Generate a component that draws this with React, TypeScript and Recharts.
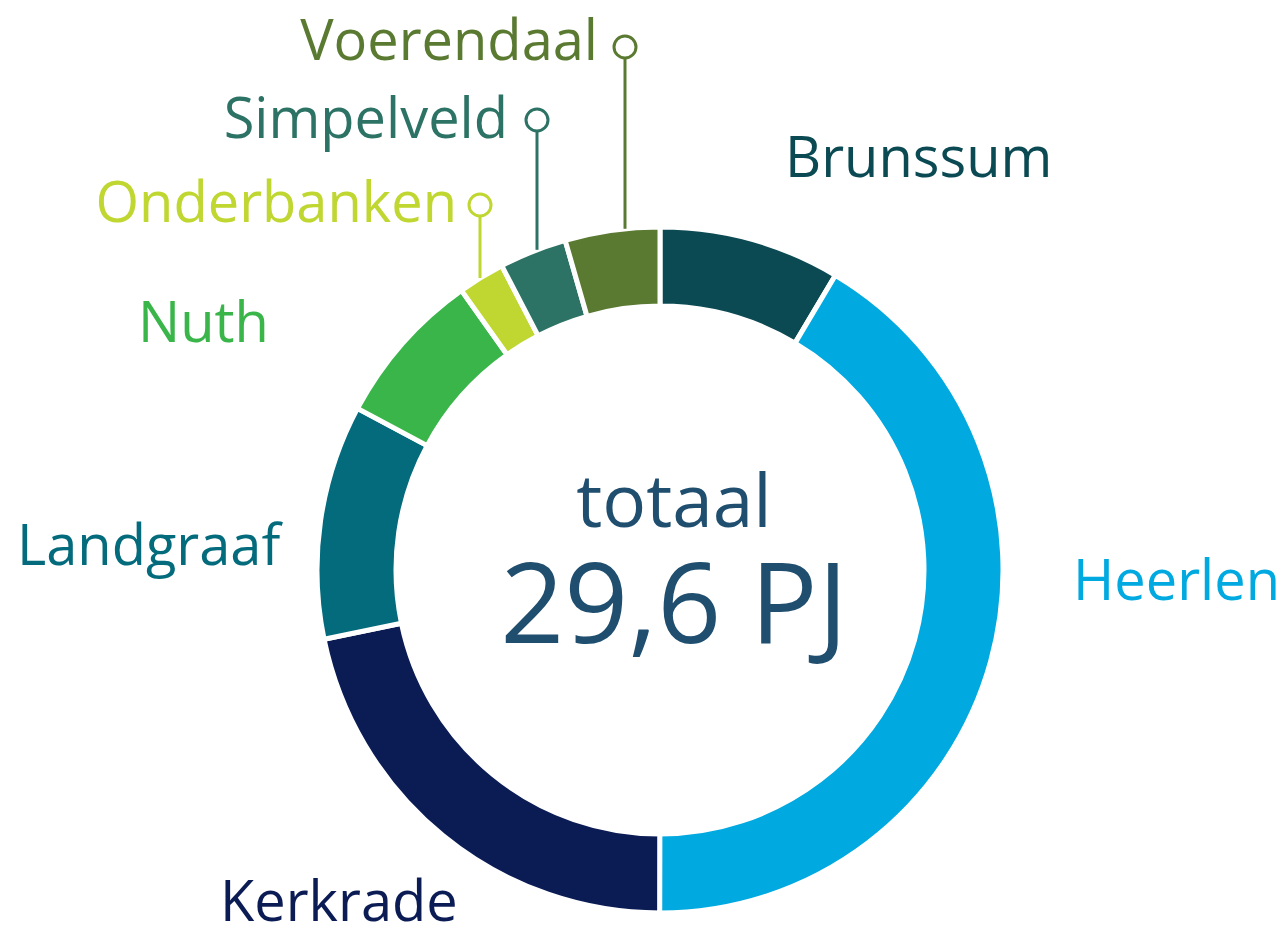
import { Label, Pie, PieChart, Cell } from "recharts";

// energy use per municipality, PJ
const municipalities = [
  "Brunssum",
  "Heerlen",
  "Kerkrade",
  "Landgraaf",
  "Nuth",
  "Onderbanken",
  "Simpelveld",
  "Voerendaal",
];
const energyPJ = [2.53, 12.28, 6.44, 3.27, 2.18, 0.65, 0.94, 1.32];
const totalLabel = "29,6 PJ";

const colors = [
  "#0b4a53",
  "#00a9e0",
  "#0b1c55",
  "#036b7b",
  "#39b54a",
  "#c0d631",
  "#2d7365",
  "#5a7a32",
];

const data = municipalities.map((name, i) => ({ name, value: energyPJ[i] }));

const CX = 660;
const CY = 570;
const OUTER = 343;
const INNER = 264;
const FONT = "'Open Sans', sans-serif";
const LABEL_SIZE = 56;

// where each name sits; callouts get a small ring + vertical line down to the donut
const labelPos: Record<
  string,
  { x: number; y: number; anchor: "start" | "end"; pin?: { x: number; y: number } }
> = {
  Brunssum: { x: 785, y: 177, anchor: "start" },
  Heerlen: { x: 1073, y: 600, anchor: "start" },
  Kerkrade: { x: 220, y: 921, anchor: "start" },
  Landgraaf: { x: 17, y: 565, anchor: "start" },
  Nuth: { x: 138, y: 342, anchor: "start" },
  Onderbanken: { x: 457, y: 222, anchor: "end", pin: { x: 480, y: 205 } },
  Simpelveld: { x: 508, y: 138, anchor: "end", pin: { x: 537, y: 120 } },
  Voerendaal: { x: 598, y: 60, anchor: "end", pin: { x: 625, y: 47 } },
};

function renderLabel(props: any) {
  const { name, index, cx, cy, outerRadius } = props;
  const pos = labelPos[name];
  if (!pos) return null;
  const color = colors[index % colors.length];
  let pin = null;
  if (pos.pin) {
    const dx = pos.pin.x - cx;
    const ringY = cy - Math.sqrt(outerRadius * outerRadius - dx * dx);
    pin = (
      <g>
        <line
          x1={pos.pin.x}
          y1={pos.pin.y + 11}
          x2={pos.pin.x}
          y2={ringY}
          stroke={color}
          strokeWidth={3}
        />
        <circle
          cx={pos.pin.x}
          cy={pos.pin.y}
          r={11}
          fill="#fff"
          stroke={color}
          strokeWidth={3}
        />
      </g>
    );
  }
  return (
    <g key={name}>
      {pin}
      <text
        x={pos.x}
        y={pos.y}
        textAnchor={pos.anchor}
        fill={color}
        fontFamily={FONT}
        fontSize={LABEL_SIZE}
      >
        {name}
      </text>
    </g>
  );
}

function CenterText(props: any) {
  const vb = props.viewBox || {};
  const x = (vb.cx ?? CX) + 14;
  const y = vb.cy ?? CY;
  return (
    <g>
      <text
        x={x}
        y={y - 43}
        textAnchor="middle"
        fill="#1f4e6f"
        fontFamily={FONT}
        fontSize={73}
      >
        totaal
      </text>
      <text
        x={x}
        y={y + 73}
        textAnchor="middle"
        fill="#1f4e6f"
        fontFamily={FONT}
        fontSize={112}
      >
        {totalLabel}
      </text>
    </g>
  );
}

export default function App() {
  return (
    <div style={{ width: 1284, height: 937, background: "#fff" }}>
      <style>{`body { margin: 0; }`}</style>
      <PieChart width={1284} height={937} margin={{ top: 0, right: 0, bottom: 0, left: 0 }}>
        <Pie
          data={data}
          dataKey="value"
          nameKey="name"
          cx={CX}
          cy={CY}
          innerRadius={INNER}
          outerRadius={OUTER}
          startAngle={90}
          endAngle={-270}
          stroke="#fff"
          strokeWidth={5}
          label={renderLabel}
          labelLine={false}
          isAnimationActive={false}
        >
          {data.map((d, i) => (
            <Cell key={d.name} fill={colors[i]} />
          ))}
          <Label position="center" content={<CenterText />} />
        </Pie>
      </PieChart>
    </div>
  );
}
